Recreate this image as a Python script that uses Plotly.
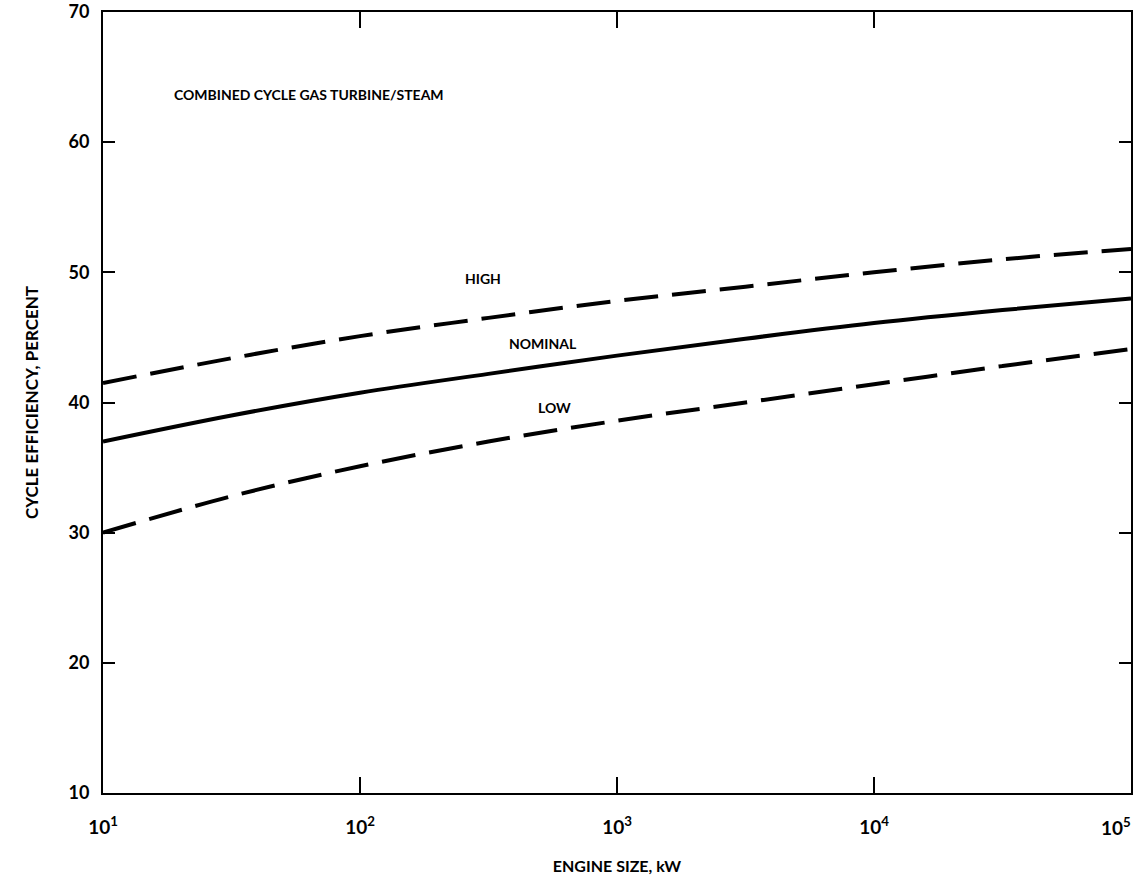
import plotly.graph_objects as go

engine_kw = [10, 31.6, 100, 316, 1000, 3162, 10000, 31623, 100000]
high = [41.5, 43.4, 45.1, 46.5, 47.8, 48.9, 50.0, 51.0, 51.8]
nominal = [37.0, 39.0, 40.75, 42.2, 43.6, 44.9, 46.1, 47.1, 48.0]
low = [30.0, 32.8, 35.1, 37.0, 38.6, 40.0, 41.4, 42.8, 44.1]

x_tickvals = [10, 100, 1000, 10000, 100000]
x_ticktext = ["10<sup>1</sup>", "10<sup>2</sup>", "10<sup>3</sup>", "10<sup>4</sup>", "10<sup>5</sup>"]
y_tickvals = [10, 20, 30, 40, 50, 60, 70]

FONT = "Lato, 'Open Sans', sans-serif"

fig = go.Figure()
fig.add_trace(go.Scatter(x=engine_kw, y=high, mode="lines", line=dict(color="black", width=4, dash="34px,14px", shape="spline"), showlegend=False))
fig.add_trace(go.Scatter(x=engine_kw, y=nominal, mode="lines", line=dict(color="black", width=4, shape="spline"), showlegend=False))
fig.add_trace(go.Scatter(x=engine_kw, y=low, mode="lines", line=dict(color="black", width=4, dash="34px,14px", shape="spline"), showlegend=False))

annots = [
    dict(x=2.479, y=49.5, text="HIGH", xanchor="center"),
    dict(x=2.712, y=44.5, text="NOMINAL", xanchor="center"),
    dict(x=2.755, y=39.6, text="LOW", xanchor="center"),
    dict(x=1.268, y=63.7, text="COMBINED CYCLE GAS TURBINE/STEAM", xanchor="left"),
]
for a in annots:
    fig.add_annotation(x=a["x"], y=a["y"], text=a["text"], xanchor=a["xanchor"], yanchor="middle",
                       showarrow=False, font=dict(family=FONT, size=14, color="black", weight="bold"))

# last decade label sits flush right against the axis end, as in the reference
fig.add_annotation(x=5, xref="x", y=0, yref="paper", text=x_ticktext[-1], xanchor="right", yanchor="middle",
                   yshift=-33, xshift=2, showarrow=False,
                   font=dict(family=FONT, size=19, color="black", weight="bold"))
shown_ticktext = x_ticktext[:-1] + [""]

fig.update_layout(
    width=1135, height=890,
    margin=dict(l=103, r=4, t=12, b=97, autoexpand=False),
    paper_bgcolor="white", plot_bgcolor="white",
    font=dict(family=FONT, color="black"),
    xaxis=dict(type="log", range=[1, 5], tickvals=x_tickvals, ticktext=shown_ticktext,
               automargin=False,
               showgrid=False, zeroline=False, showline=True, linecolor="black", linewidth=2,
               mirror="ticks", ticks="inside", ticklen=16, tickwidth=2, tickcolor="black",
               ticklabeloverflow="allow",
               tickfont=dict(family=FONT, size=19, color="black", weight="bold"), ticklabelstandoff=16,
               title=dict(text="ENGINE SIZE, kW", font=dict(family=FONT, size=16, color="black", weight="bold"), standoff=24)),
    yaxis=dict(range=[10, 70], tickvals=y_tickvals,
               automargin=False,
               showgrid=False, zeroline=False, showline=True, linecolor="black", linewidth=2,
               mirror="ticks", ticks="inside", ticklen=12, tickwidth=2, tickcolor="black",
               ticklabeloverflow="allow",
               tickfont=dict(family=FONT, size=18, color="black", weight="bold"), ticklabelstandoff=8,
               title=dict(text="CYCLE EFFICIENCY, PERCENT", font=dict(family=FONT, size=17, color="black", weight="bold"), standoff=26)),
)

fig.write_html("out.html")
